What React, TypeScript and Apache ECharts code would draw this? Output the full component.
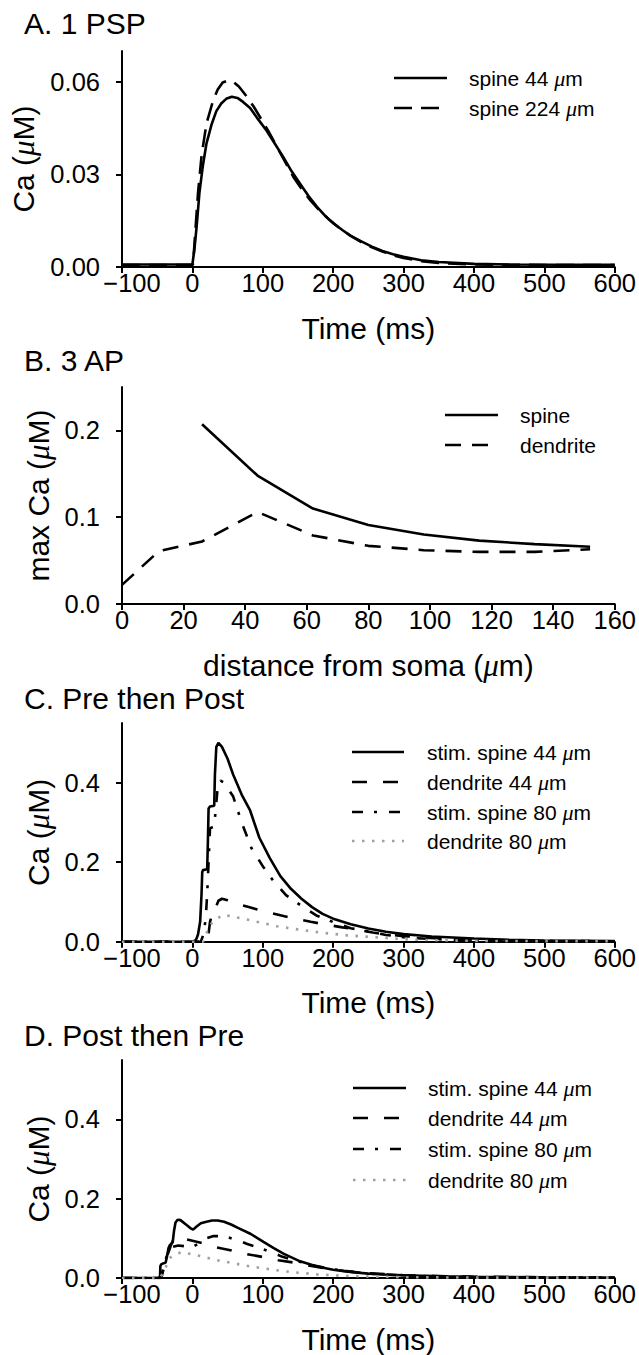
import React, { useEffect, useRef } from 'react';
import * as echarts from 'echarts';

const FONT = '"Liberation Sans", Arial, Helvetica, sans-serif';
const MUFONT = '"Liberation Serif", "DejaVu Serif", serif';

// ---------- Panel titles ----------
const panelTitles = ['A. 1 PSP', 'B. 3 AP', 'C. Pre then Post', 'D. Post then Pre'];

// ---------- Tick values ----------
const timeTicks = [-100, 0, 100, 200, 300, 400, 500, 600];
const distTicks = [0, 20, 40, 60, 80, 100, 120, 140, 160];
const yTicksA = [0, 0.03, 0.06];
const yTicksB = [0, 0.1, 0.2];
const yTicksCD = [0, 0.2, 0.4];

// ---------- Panel A: 1 PSP (time ms, Ca uM) ----------
const pspSpine44: [number, number][] = [
  [-100, 0.0008], [0, 0.0008], [3, 0.006], [6, 0.013], [10, 0.024], [15, 0.033], [20, 0.04],
  [27, 0.046], [34, 0.0505], [41, 0.053], [48, 0.0545], [56, 0.0552], [64, 0.0548], [72, 0.0535],
  [82, 0.0515], [93, 0.048], [105, 0.0443], [117, 0.04], [129, 0.0357], [141, 0.031], [153, 0.027],
  [165, 0.023], [177, 0.0195], [189, 0.0165], [201, 0.014], [213, 0.012], [225, 0.0101], [240, 0.0083],
  [255, 0.0066], [270, 0.0052], [285, 0.0041], [300, 0.0033], [325, 0.0022], [350, 0.0016],
  [400, 0.001], [450, 0.0008], [600, 0.0007],
];
const pspSpine224: [number, number][] = [
  [-100, 0.0006], [0, 0.0006], [1, 0.001], [3.3, 0.0087], [8, 0.024], [13, 0.036], [20, 0.0465],
  [29.5, 0.054], [36, 0.0575], [43, 0.0598], [51, 0.0605], [58, 0.06], [66, 0.0585], [77, 0.0553],
  [87, 0.052], [96, 0.0486], [108, 0.044], [120, 0.039], [132, 0.034], [144, 0.029], [156, 0.025],
  [168, 0.0215], [180, 0.0185], [195, 0.0152], [210, 0.0124], [225, 0.0101], [240, 0.0081],
  [255, 0.0064], [270, 0.005], [285, 0.0038], [300, 0.0029], [325, 0.0019], [350, 0.0013],
  [400, 0.0008], [450, 0.0007], [600, 0.0006],
];

// ---------- Panel B: 3 AP (distance um, max Ca uM) ----------
const apSpine: [number, number][] = [
  [26, 0.207], [44, 0.148], [62, 0.11], [80, 0.091], [98, 0.08], [116, 0.073], [134, 0.069], [152, 0.066],
];
const apDendrite: [number, number][] = [
  [0, 0.022], [12, 0.061], [26, 0.072], [44, 0.106], [62, 0.079], [80, 0.067], [98, 0.062],
  [116, 0.06], [134, 0.06], [152, 0.063],
];

// ---------- Panel C: Pre then Post ----------
const preSpine44: [number, number][] = [
  [-100, 0], [0, 0], [5, 0.004], [8, 0.018], [11, 0.05], [13, 0.12], [14, 0.175], [15, 0.18],
  [21, 0.182], [22, 0.25], [23, 0.335], [25, 0.34], [31, 0.342], [32, 0.42], [34, 0.49], [37, 0.5],
  [42, 0.49], [50, 0.46], [58, 0.42], [70, 0.37], [82, 0.33], [95, 0.262], [110, 0.21], [125, 0.165],
  [140, 0.133], [155, 0.108], [170, 0.087], [185, 0.07], [200, 0.058], [225, 0.044], [250, 0.033],
  [275, 0.025], [300, 0.019], [340, 0.013], [400, 0.008], [450, 0.005], [500, 0.003], [600, 0.0015],
];
const preDend44: [number, number][] = [
  [-100, 0], [20, 0], [23, 0.02], [25, 0.05], [27, 0.062], [32, 0.066], [34, 0.09], [37, 0.103],
  [42, 0.108], [50, 0.104], [60, 0.097], [80, 0.087], [100, 0.077], [122, 0.068], [143, 0.059],
  [168, 0.05], [187, 0.044], [213, 0.036], [232, 0.031], [256, 0.023], [277, 0.018], [300, 0.014],
  [350, 0.008], [400, 0.005], [500, 0.002], [600, 0.001],
];
const preSpine80: [number, number][] = [
  [-100, 0], [12, 0], [16, 0.02], [19, 0.06], [21, 0.12], [23, 0.2], [25, 0.285], [31, 0.29],
  [33, 0.33], [36, 0.39], [40, 0.405], [45, 0.4], [58, 0.365], [70, 0.3], [84, 0.235], [100, 0.19],
  [115, 0.153], [133, 0.117], [155, 0.09], [176, 0.066], [202, 0.048], [225, 0.034], [253, 0.025],
  [275, 0.017], [306, 0.01], [350, 0.006], [400, 0.004], [500, 0.002], [600, 0.001],
];
const preDend80: [number, number][] = [
  [-100, 0], [15, 0], [18, 0.01], [22, 0.031], [28, 0.048], [35, 0.058], [44, 0.068], [58, 0.063],
  [87, 0.052], [120, 0.039], [149, 0.031], [182, 0.023], [220, 0.016], [268, 0.01], [315, 0.005],
  [400, 0.002], [600, 0.001],
];

// ---------- Panel D: Post then Pre ----------
const postSpine44: [number, number][] = [
  [-100, 0], [-46, 0], [-45.5, 0.03], [-44, 0.035], [-38, 0.039], [-36, 0.055], [-34, 0.075],
  [-32, 0.083], [-28, 0.09], [-26, 0.12], [-24, 0.14], [-21, 0.147], [-17, 0.146], [-10, 0.136],
  [-3, 0.126], [1, 0.122], [6, 0.13], [12, 0.138], [20, 0.142], [28, 0.145], [36, 0.145], [45, 0.142],
  [55, 0.135], [64, 0.127], [83, 0.111], [101, 0.091], [115, 0.076], [130, 0.061], [153, 0.042],
  [177, 0.029], [200, 0.021], [224, 0.015], [250, 0.011], [271, 0.009], [300, 0.007], [350, 0.004],
  [400, 0.003], [500, 0.0015], [600, 0.001],
];
const postDend44: [number, number][] = [
  [-100, 0], [-48, 0], [-44, 0.008], [-40, 0.03], [-35, 0.06], [-30, 0.085], [-26, 0.1], [-22, 0.103],
  [-10, 0.098], [0, 0.094], [12, 0.089], [35, 0.077], [54, 0.07], [78, 0.06], [97, 0.054],
  [122, 0.045], [144, 0.039], [167, 0.031], [186, 0.025], [215, 0.018], [250, 0.012], [300, 0.007],
  [400, 0.003], [600, 0.001],
];
const postSpine80: [number, number][] = [
  [-100, 0], [-44, 0], [-42, 0.015], [-40, 0.03], [-36, 0.06], [-30, 0.078], [-20, 0.082],
  [-10, 0.08], [0, 0.078], [10, 0.088], [20, 0.1], [30, 0.106], [47, 0.105], [66, 0.094], [78, 0.086],
  [97, 0.075], [117, 0.062], [127, 0.054], [150, 0.042], [175, 0.031], [200, 0.022], [225, 0.016],
  [250, 0.011], [300, 0.006], [400, 0.002], [600, 0.001],
];
const postDend80: [number, number][] = [
  [-100, 0], [-46, 0], [-42, 0.012], [-38, 0.027], [-34, 0.042], [-31, 0.052], [-24, 0.06],
  [-16, 0.065], [0, 0.06], [35, 0.045], [83, 0.029], [130, 0.017], [177, 0.009], [224, 0.005],
  [300, 0.002], [400, 0.001], [600, 0.001],
];

// ---------- Series names ----------
const namesA = ['spine 44 μm', 'spine 224 μm'];
const namesB = ['spine', 'dendrite'];
const namesCD = ['stim. spine 44 μm', 'dendrite 44 μm', 'stim. spine 80 μm', 'dendrite 80 μm'];

const BLACK = '#000';
const GRAY = '#a0a0a0';
const LW = 2.6;

const TICK_FS = 25.5;
const NAME_FS = 30;
const TITLE_FS = 30;
const LEG_FS = 21;

// line dash styles
const dashA = [18, 9];
const dashB = [16, 11];
const dashCD = [15, 16];
const dashDot = [11, 11, 3, 12];
const dots = [2.5, 7.5];

const muStyle = (fs: number) => ({ fontStyle: 'italic', fontSize: fs + 1, fontFamily: MUFONT, fill: BLACK, color: BLACK });

export default function App() {
  const ref = useRef<HTMLDivElement>(null);

  useEffect(() => {
    document.body.style.margin = '0';
    const chart = echarts.init(ref.current!, undefined, { renderer: 'svg' });

    const grids = [
      { left: 122, right: 22, top: 51, height: 216 },
      { left: 122, right: 22, top: 387, height: 217 },
      { left: 122, right: 22, top: 723, height: 218.7 },
      { left: 122, right: 22, top: 1060, height: 218 },
    ];

    const axisLine = { show: true, onZero: false, lineStyle: { color: BLACK, width: 2 } };
    const axisTick = { show: true, inside: false, length: 6, lineStyle: { color: BLACK, width: 2 } };
    const nameTextStyle = {
      fontSize: NAME_FS,
      fontFamily: FONT,
      color: BLACK,
      rich: { mu: muStyle(NAME_FS) },
    };

    const xAxisFor = (gi: number, isDist: boolean) => ({
      type: 'value',
      gridIndex: gi,
      min: isDist ? 0 : -100,
      max: isDist ? 160 : 600,
      interval: isDist ? 20 : 100,
      axisLine,
      axisTick: { ...axisTick, customValues: isDist ? distTicks : timeTicks },
      splitLine: { show: false },
      axisLabel: {
        customValues: isDist ? distTicks : timeTicks,
        margin: 3,
        fontSize: TICK_FS,
        fontFamily: FONT,
        color: BLACK,
        rich: {
          s: { width: 20, fontSize: TICK_FS, fontFamily: FONT },
          n: { fontSize: TICK_FS, fontFamily: FONT, color: BLACK },
        },
        formatter: (v: number) => (v < 0 ? '{s|}{n|\u2212' + Math.abs(v) + '}' : String(v)),
      },
      name: isDist ? 'distance from soma ({mu|μ}m)' : 'Time (ms)',
      nameLocation: 'middle',
      nameGap: 46,
      nameTextStyle,
    });

    const yAxisFor = (gi: number, max: number, interval: number, ticks: number[], digits: number, name: string, gap: number) => ({
      type: 'value',
      gridIndex: gi,
      min: 0,
      max,
      interval,
      axisLine,
      axisTick: { ...axisTick, customValues: ticks },
      splitLine: { show: false },
      axisLabel: {
        customValues: ticks,
        margin: 22,
        fontSize: TICK_FS,
        fontFamily: FONT,
        color: BLACK,
        formatter: (v: number) => {
          const k = Math.round(v / interval);
          if (Math.abs(k * interval - v) > 1e-9) return '';
          return v.toFixed(digits);
        },
      },
      name,
      nameLocation: 'middle',
      nameGap: gap,
      nameTextStyle,
    });

    const line = (name: string, data: [number, number][], gi: number, color: string, type: any) => ({
      type: 'line',
      name,
      xAxisIndex: gi,
      yAxisIndex: gi,
      data,
      showSymbol: false,
      symbol: 'none',
      smooth: false,
      lineStyle: { color, width: LW, type, cap: 'butt' },
      itemStyle: { color },
      emphasis: { disabled: true },
    });

    // legend drawn as graphic elements (line sample + text)
    const legendItems = (
      names: string[],
      styles: { color: string; dash: number[] | null }[],
      x1: number,
      x2: number,
      tx: number,
      ys: number[]
    ) => {
      const els: any[] = [];
      names.forEach((n, i) => {
        els.push({
          type: 'line',
          silent: true,
          shape: { x1, y1: ys[i], x2, y2: ys[i] },
          style: { stroke: styles[i].color, lineWidth: LW, lineDash: styles[i].dash, lineCap: 'butt' },
        });
        els.push({
          type: 'text',
          silent: true,
          x: tx,
          y: ys[i],
          style: {
            text: n.replace('μ', '{mu|μ}'),
            fill: BLACK,
            fontSize: LEG_FS,
            fontFamily: FONT,
            verticalAlign: 'middle',
            align: 'left',
            rich: { mu: muStyle(LEG_FS) },
          },
        });
      });
      return els;
    };

    const stylesA = [{ color: BLACK, dash: null }, { color: BLACK, dash: dashA }];
    const stylesB = [{ color: BLACK, dash: null }, { color: BLACK, dash: dashB }];
    const stylesCD = [
      { color: BLACK, dash: null },
      { color: BLACK, dash: dashCD },
      { color: BLACK, dash: dashDot },
      { color: GRAY, dash: dots },
    ];

    const titleTops = [8, 345, 683, 1020];

    chart.setOption({
      animation: false,
      backgroundColor: '#fff',
      textStyle: { fontFamily: FONT },
      title: panelTitles.map((t, i) => ({
        text: t,
        left: 24,
        top: titleTops[i],
        padding: 0,
        textStyle: { fontSize: TITLE_FS, fontWeight: 'normal', fontFamily: FONT, color: BLACK },
      })),
      grid: grids,
      xAxis: [xAxisFor(0, false), xAxisFor(1, true), xAxisFor(2, false), xAxisFor(3, false)],
      yAxis: [
        yAxisFor(0, 0.07, 0.03, yTicksA, 2, 'Ca ({mu|μ}M)', 81),
        yAxisFor(1, 0.25, 0.1, yTicksB, 1, 'max Ca ({mu|μ}M)', 65),
        yAxisFor(2, 0.55, 0.2, yTicksCD, 1, 'Ca ({mu|μ}M)', 67),
        yAxisFor(3, 0.55, 0.2, yTicksCD, 1, 'Ca ({mu|μ}M)', 64),
      ],
      graphic: [
        ...legendItems(namesA, stylesA, 394, 447, 469, [78, 108]),
        ...legendItems(namesB, stylesB, 445, 498, 520, [415, 445]),
        ...legendItems(namesCD, stylesCD, 352, 404, 427, [752, 782, 812, 841]),
        ...legendItems(namesCD, stylesCD, 353, 406, 428, [1088, 1118, 1149, 1180]),
      ],
      series: [
        line(namesA[0], pspSpine44, 0, BLACK, 'solid'),
        line(namesA[1], pspSpine224, 0, BLACK, dashA),
        line(namesB[0], apSpine, 1, BLACK, 'solid'),
        line(namesB[1], apDendrite, 1, BLACK, dashB),
        line(namesCD[0], preSpine44, 2, BLACK, 'solid'),
        line(namesCD[1], preDend44, 2, BLACK, dashCD),
        line(namesCD[2], preSpine80, 2, BLACK, dashDot),
        line(namesCD[3], preDend80, 2, GRAY, dots),
        line(namesCD[0], postSpine44, 3, BLACK, 'solid'),
        line(namesCD[1], postDend44, 3, BLACK, dashCD),
        line(namesCD[2], postSpine80, 3, BLACK, dashDot),
        line(namesCD[3], postDend80, 3, GRAY, dots),
      ],
    });

    return () => chart.dispose();
  }, []);

  return (
    <div
      ref={ref}
      style={{ position: 'absolute', left: 0, top: 0, width: 639, height: 1355, background: '#fff' }}
    />
  );
}
